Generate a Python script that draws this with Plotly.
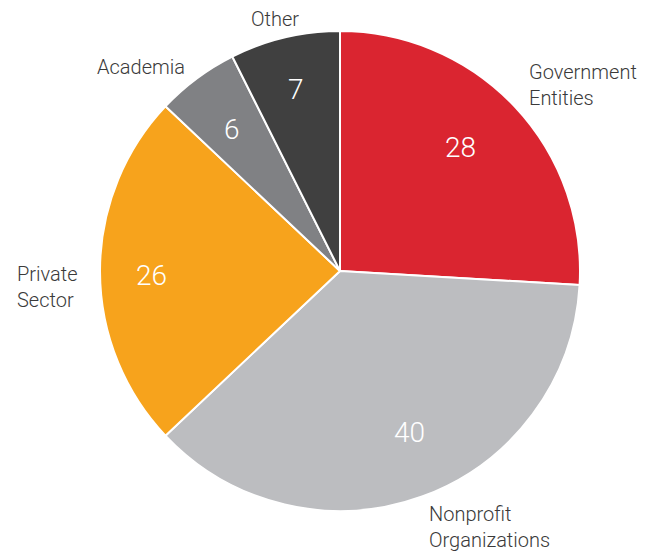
import numpy as np
import plotly.graph_objects as go

labels = ["Government<br>Entities", "Nonprofit<br>Organizations", "Private<br>Sector", "Academia", "Other"]
# numbers printed on the slices
value_labels = ["28", "40", "26", "6", "7"]
# slice sizes as drawn in the picture (the "Other" wedge is drawn slightly larger than its label)
slice_values = [28, 40, 26, 6, 8]
colors = ["#DA2530", "#BCBDC0", "#F7A31C", "#808184", "#404040"]

W, H = 656, 552
CX, CY, R = 340, 271, 240

# label styling (anchor + nudges in px)
label_style = [
    dict(xanchor="left", yanchor="middle", xshift=-5, yshift=5),
    dict(xanchor="left", yanchor="middle", xshift=-3, yshift=-8),
    dict(xanchor="right", yanchor="middle", xshift=4, yshift=-16),
    dict(xanchor="right", yanchor="middle", xshift=5, yshift=-8),
    dict(xanchor="center", yanchor="middle", xshift=-4, yshift=-5),
]
value_shift = [(-7, 3), (10, 3), (-13, -4), (-3, 1), (-4, 11)]

fig = go.Figure(go.Pie(
    labels=[l.replace("<br>", " ") for l in labels],
    values=slice_values,
    sort=False,
    direction="clockwise",
    rotation=0,
    marker=dict(colors=colors, line=dict(color="white", width=2)),
    textinfo="none",
    hoverinfo="label",
    domain=dict(x=[(CX - R) / W, (CX + R) / W], y=[1 - (CY + R) / H, 1 - (CY - R) / H]),
    showlegend=False,
))

total = sum(slice_values)
cum = np.cumsum([0] + slice_values)
annotations = []
font_family = "Roboto"
for i, (lab, vl) in enumerate(zip(labels, value_labels)):
    mid = (cum[i] + slice_values[i] / 2) / total * 2 * np.pi
    sx, sy = np.sin(mid), np.cos(mid)
    # outside label
    px = CX + 1.1 * R * sx
    py = CY - 1.1 * R * sy
    st = label_style[i]
    annotations.append(dict(
        x=px / W, y=1 - py / H, xref="paper", yref="paper",
        text=lab, showarrow=False, align="left",
        xanchor=st["xanchor"], yanchor=st["yanchor"],
        xshift=st["xshift"], yshift=st["yshift"],
        font=dict(family=font_family, size=20, color="#3a3a3a", weight=300),
    ))
    # inside value
    vx = CX + 0.73 * R * sx
    vy = CY - 0.73 * R * sy
    annotations.append(dict(
        x=vx / W, y=1 - vy / H, xref="paper", yref="paper",
        text=vl, showarrow=False, xanchor="center", yanchor="middle",
        xshift=value_shift[i][0], yshift=value_shift[i][1],
        font=dict(family=font_family, size=28, color="white", weight=300),
    ))

fig.update_layout(
    width=W, height=H,
    margin=dict(l=0, r=0, t=0, b=0),
    paper_bgcolor="white",
    plot_bgcolor="white",
    annotations=annotations,
)

fig.write_html("out.html")
